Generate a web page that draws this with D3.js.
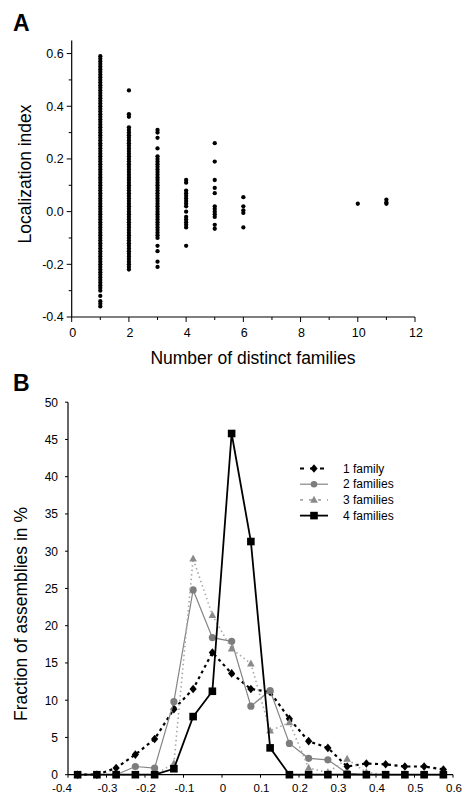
<!DOCTYPE html>
<html><head><meta charset="utf-8">
<script src="https://cdn.jsdelivr.net/npm/d3@7"></script>
<style>
html,body{margin:0;padding:0;background:#fff;}
svg{display:block;font-family:"Liberation Sans",Arial,sans-serif;}
</style></head>
<body><svg id="c" width="464" height="796"></svg>
<script>
// ---------- Panel A data: localization index per number of distinct families ----------
const familyCounts = [1, 2, 3, 4, 5, 6, 10, 11];
const locCol1 = [0.59,0.58,0.57,0.56,0.55,0.54,0.53,0.52,0.51,0.50,0.49,0.48,0.47,0.46,0.45,0.44,0.43,0.42,0.41,0.40,0.39,0.38,0.37,0.36,0.35,0.34,0.33,0.32,0.31,0.30,0.29,0.28,0.27,0.26,0.25,0.24,0.23,0.22,0.21,0.20,0.19,0.18,0.17,0.16,0.15,0.14,0.13,0.12,0.11,0.10,0.09,0.08,0.07,0.06,0.05,0.04,0.03,0.02,0.01,0.00,-0.01,-0.02,-0.03,-0.04,-0.05,-0.06,-0.07,-0.08,-0.09,-0.10,-0.11,-0.12,-0.13,-0.14,-0.15,-0.16,-0.17,-0.18,-0.19,-0.20,-0.21,-0.22,-0.23,-0.24,-0.25,-0.26,-0.27,-0.28,-0.29,-0.30,-0.32,-0.34,-0.35,-0.36];
const locCol2 = [0.46,0.37,0.36,0.32,0.31,0.30,0.29,0.28,0.27,0.26,0.25,0.24,0.23,0.22,0.21,0.20,0.19,0.18,0.17,0.16,0.15,0.14,0.13,0.12,0.11,0.10,0.09,0.08,0.07,0.06,0.05,0.04,0.03,0.02,0.01,0.00,-0.01,-0.02,-0.03,-0.04,-0.05,-0.06,-0.07,-0.08,-0.09,-0.10,-0.11,-0.12,-0.13,-0.14,-0.15,-0.16,-0.17,-0.18,-0.19,-0.20,-0.21,-0.22];
const locCol3 = [0.31,0.30,0.28,0.24,0.21,0.20,0.19,0.18,0.17,0.16,0.15,0.14,0.13,0.12,0.11,0.10,0.09,0.08,0.07,0.06,0.05,0.04,0.03,0.02,0.01,0.00,-0.01,-0.02,-0.03,-0.04,-0.05,-0.06,-0.07,-0.08,-0.09,-0.10,-0.13,-0.15,-0.19,-0.21];
const locCol4 = [0.12,0.11,0.08,0.07,0.06,0.05,0.04,0.03,0.02,0.00,-0.02,-0.03,-0.04,-0.05,-0.06,-0.13];
const locCol5 = [0.26,0.19,0.12,0.09,0.07,0.02,0.01,0.00,-0.01,-0.02,-0.05,-0.065];
const locCol6 = [0.055,0.02,0.005,-0.005,-0.06];
const locCol10 = [0.03];
const locCol11 = [0.045,0.035,0.03];
const locColumns = [locCol1, locCol2, locCol3, locCol4, locCol5, locCol6, locCol10, locCol11];
const aXTicks = [0, 2, 4, 6, 8, 10, 12];
const aYTicks = [-0.4, -0.2, 0.0, 0.2, 0.4, 0.6];

// ---------- Panel B data: fraction of assemblies (%) per localization bin ----------
const binCenters = [-0.375,-0.325,-0.275,-0.225,-0.175,-0.125,-0.075,-0.025,0.025,0.075,0.125,0.175,0.225,0.275,0.325,0.375,0.425,0.475,0.525,0.575];
const oneFamily   = [0,0,0.9,2.7,4.8,8.8,11.5,16.4,13.6,11.5,11.1,7.5,4.5,3.6,1.1,1.5,1.4,1.1,1.1,0.7];
const twoFamilies = [0,0,0,1.1,0.9,9.8,24.8,18.4,17.9,9.2,11.3,4.2,2.2,2.0,0.2,0,0,0,0,0];
const threeFamilies = [0,0,0,0,0,1.5,29.0,21.4,16.9,14.9,5.9,7.0,0.9,0.3,2.1,0.3,0,0,0,0];
const fourFamilies = [0,0,0,0,0,0.8,7.8,11.2,45.8,31.3,3.6,0,0,0,0,0,0,0,0,0];
const seriesNames = ["1 family","2 families","3 families","4 families"];
const bXTicks = [-0.4,-0.3,-0.2,-0.1,0,0.1,0.2,0.3,0.4,0.5,0.6];
const bXTickLabels = ["-0.4","-0.3","-0.2","-0.1","0","0.1","0.2","0.3","0.4","0.5","0.6"];
const bYTicks = [0,5,10,15,20,25,30,35,40,45,50];

const svg = d3.select("#c");

// ================= Panel A =================
const xA = d3.scaleLinear().domain([0, 12]).range([71.7, 415]);
const yA = d3.scaleLinear().domain([-0.4, 0.65]).range([317, 40.4]);

svg.append("text").attr("x", 13).attr("y", 31).attr("font-size", 23).attr("font-weight", "bold").text("A");

const gA = svg.append("g");
gA.append("line").attr("x1", xA(0)).attr("x2", xA(0)).attr("y1", yA(0.65)).attr("y2", yA(-0.4)).attr("stroke", "#000").attr("stroke-width", 1.2);
gA.append("line").attr("x1", xA(0)).attr("x2", xA(12)).attr("y1", yA(-0.4)).attr("y2", yA(-0.4)).attr("stroke", "#000").attr("stroke-width", 1.2);
const aYMinor = [-0.3,-0.1,0.1,0.3,0.5];
gA.selectAll(".ayt").data(aYTicks).enter().append("line")
  .attr("x1", xA(0) - 5).attr("x2", xA(0)).attr("y1", d => yA(d)).attr("y2", d => yA(d)).attr("stroke", "#000").attr("stroke-width", 1);
gA.selectAll(".aym").data(aYMinor).enter().append("line")
  .attr("x1", xA(0) - 3).attr("x2", xA(0)).attr("y1", d => yA(d)).attr("y2", d => yA(d)).attr("stroke", "#000").attr("stroke-width", 1);
gA.selectAll(".ayl").data(aYTicks).enter().append("text")
  .attr("x", xA(0) - 8).attr("y", d => yA(d) + 4.3).attr("text-anchor", "end").attr("font-size", 12.5)
  .text(d => d3.format(".1f")(d).replace("−", "-"));
const aXMinor = [1,3,5,7,9,11];
gA.selectAll(".axt").data(aXTicks).enter().append("line")
  .attr("x1", d => xA(d)).attr("x2", d => xA(d)).attr("y1", yA(-0.4)).attr("y2", yA(-0.4) + 5).attr("stroke", "#000").attr("stroke-width", 1);
gA.selectAll(".axm").data(aXMinor).enter().append("line")
  .attr("x1", d => xA(d)).attr("x2", d => xA(d)).attr("y1", yA(-0.4)).attr("y2", yA(-0.4) + 3).attr("stroke", "#000").attr("stroke-width", 1);
gA.selectAll(".axl").data(aXTicks).enter().append("text")
  .attr("x", d => xA(d) + 1).attr("y", 337).attr("text-anchor", "middle").attr("font-size", 12.5).text(d => d);
svg.append("text").attr("x", 253).attr("y", 364).attr("text-anchor", "middle").attr("font-size", 17.5).text("Number of distinct families");
svg.append("text").attr("transform", "translate(31,174) rotate(-90)").attr("text-anchor", "middle").attr("font-size", 17.5).text("Localization index");
const dotsA = [];
locColumns.forEach((col, i) => col.forEach(v => dotsA.push({x: familyCounts[i], y: v})));
gA.selectAll(".dot").data(dotsA).enter().append("circle")
  .attr("cx", d => xA(d.x)).attr("cy", d => yA(d.y)).attr("r", 2.15).attr("fill", "#000");

// ================= Panel B =================
const xB = d3.scaleLinear().domain([-0.4, 0.6]).range([68, 453]);
const yB = d3.scaleLinear().domain([0, 50]).range([774.7, 402.2]);

svg.append("text").attr("x", 13).attr("y", 391).attr("font-size", 23).attr("font-weight", "bold").text("B");

const gB = svg.append("g");
gB.append("line").attr("x1", xB(-0.4)).attr("x2", xB(-0.4)).attr("y1", yB(50)).attr("y2", yB(0)).attr("stroke", "#000").attr("stroke-width", 1.2);
gB.append("line").attr("x1", xB(-0.4)).attr("x2", xB(0.6)).attr("y1", yB(0)).attr("y2", yB(0)).attr("stroke", "#000").attr("stroke-width", 1.2);
gB.selectAll(".byt").data(bYTicks).enter().append("line")
  .attr("x1", xB(-0.4) - 3).attr("x2", xB(-0.4)).attr("y1", d => yB(d)).attr("y2", d => yB(d)).attr("stroke", "#000").attr("stroke-width", 1);
gB.selectAll(".byl").data(bYTicks).enter().append("text")
  .attr("x", 58).attr("y", d => yB(d) + 4.3).attr("text-anchor", "end").attr("font-size", 12).text(d => d);
gB.selectAll(".bxt").data(bXTicks).enter().append("line")
  .attr("x1", d => xB(d)).attr("x2", d => xB(d)).attr("y1", yB(0)).attr("y2", yB(0) + 3).attr("stroke", "#000").attr("stroke-width", 1);
gB.selectAll(".bxl").data(bXTicks).enter().append("text")
  .attr("x", (d, i) => xB(d) + (i === 0 ? -6 : 1)).attr("y", 792).attr("text-anchor", "middle").attr("font-size", 11.5)
  .text((d, i) => bXTickLabels[i]);
svg.append("text").attr("transform", "translate(27,614) rotate(-90)").attr("text-anchor", "middle").attr("font-size", 17.5).text("Fraction of assemblies in %");

const diamondPath = "M0,-4.3L3.6,0L0,4.3L-3.6,0Z";
const trianglePath = "M0,-4.2L3.8,2.8L-3.8,2.8Z";
const squarePath = "M-3.8,-3.8H3.8V3.8H-3.8Z";

const styles = [
  {vals: oneFamily, stroke: "#000", sw: 2.2, dash: "3,3.5", fill: "#000", shape: "path", path: diamondPath},
  {vals: twoFamilies, stroke: "#858585", sw: 1.2, dash: null, fill: "#7d7d7d", shape: "circle"},
  {vals: threeFamilies, stroke: "#a8a8a8", sw: 1.6, dash: "1.5,3", fill: "#8a8a8a", shape: "path", path: trianglePath},
  {vals: fourFamilies, stroke: "#000", sw: 1.8, dash: null, fill: "#000", shape: "path", path: squarePath}
];

const line = d3.line().x((d, i) => xB(binCenters[i])).y(d => yB(d));

styles.forEach(s => {
  const g = gB.append("g");
  g.append("path").datum(s.vals).attr("d", line).attr("fill", "none")
    .attr("stroke", s.stroke).attr("stroke-width", s.sw).attr("stroke-dasharray", s.dash);
  if (s.shape === "circle") {
    g.selectAll("circle").data(s.vals).enter().append("circle")
      .attr("cx", (d, i) => xB(binCenters[i])).attr("cy", d => yB(d)).attr("r", 3.6).attr("fill", s.fill);
  } else {
    g.selectAll(".m").data(s.vals).enter().append("path").attr("d", s.path)
      .attr("transform", (d, i) => `translate(${xB(binCenters[i])},${yB(d)})`).attr("fill", s.fill);
  }
});

const leg = svg.append("g");
styles.forEach((s, i) => {
  const cy = 468.5 + 15.7 * i;
  leg.append("line").attr("x1", 300).attr("x2", 328).attr("y1", cy).attr("y2", cy)
    .attr("stroke", s.stroke).attr("stroke-width", s.sw).attr("stroke-dasharray", s.dash ? (i === 0 ? "4,6" : "3,6") : null);
  if (s.shape === "circle") {
    leg.append("circle").attr("cx", 314).attr("cy", cy).attr("r", 3.3).attr("fill", s.fill);
  } else {
    leg.append("path").attr("d", s.path).attr("transform", `translate(314,${cy})`).attr("fill", s.fill);
  }
  leg.append("text").attr("x", 343).attr("y", cy + 4).attr("font-size", 12).text(seriesNames[i]);
});
</script></body></html>
